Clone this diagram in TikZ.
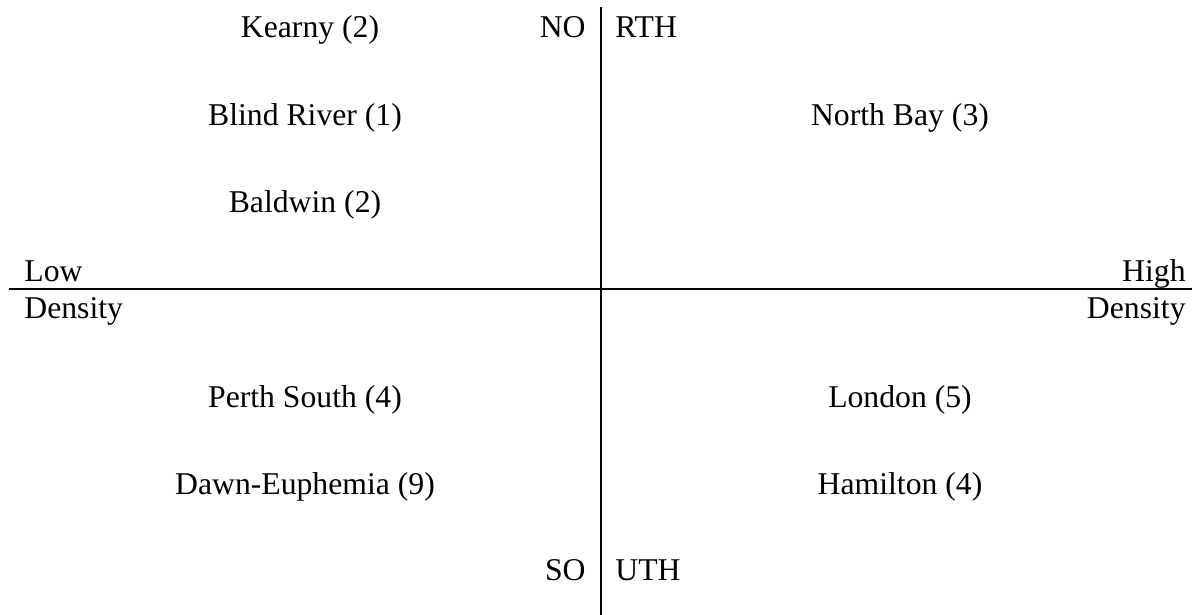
\documentclass[tikz,border=0pt]{standalone}
\usepackage{fontspec}
\setmainfont{Liberation Serif}
\begin{document}
\begin{tikzpicture}[x=0.5pt,y=-0.5pt,
  lbl/.style={inner sep=0pt,font=\fontsize{15.85}{19}\selectfont},
  axis/.style={line width=1pt,black}]
\useasboundingbox (0,0) rectangle (1201,615);
% axes
\coordinate (vt) at (601,7);
\coordinate (vb) at (601,615);
\coordinate (hl) at (9,289);
\coordinate (hr) at (1192,289);
\draw[axis] (vt) -- (vb);
\draw[axis] (hl) -- (hr);
% axis labels
\node[lbl,anchor=base east] (no) at (586,38) {NO};
\node[lbl,anchor=base west] (rth) at (615,38) {RTH};
\node[lbl,anchor=base east] (so) at (586,580) {SO};
\node[lbl,anchor=base west] (uth) at (615,580) {UTH};
\node[lbl,anchor=base west] (low) at (24,282) {Low};
\node[lbl,anchor=base west] (lden) at (24,319) {Density};
\node[lbl,anchor=base east] (high) at (1186,282) {High};
\node[lbl,anchor=base east] (hden) at (1186,319) {Density};
% places
\node[lbl,anchor=base] (kearny) at (310,38) {Kearny (2)};
\node[lbl,anchor=base] (blind) at (305,126) {Blind River (1)};
\node[lbl,anchor=base] (baldwin) at (305,213) {Baldwin (2)};
\node[lbl,anchor=base] (perth) at (305,407) {Perth South (4)};
\node[lbl,anchor=base] (dawn) at (305,494) {Dawn-Euphemia (9)};
\node[lbl,anchor=base] (northbay) at (900,126) {North Bay (3)};
\node[lbl,anchor=base] (london) at (900,407) {London (5)};
\node[lbl,anchor=base] (hamilton) at (900,494) {Hamilton (4)};
\end{tikzpicture}
\end{document}
